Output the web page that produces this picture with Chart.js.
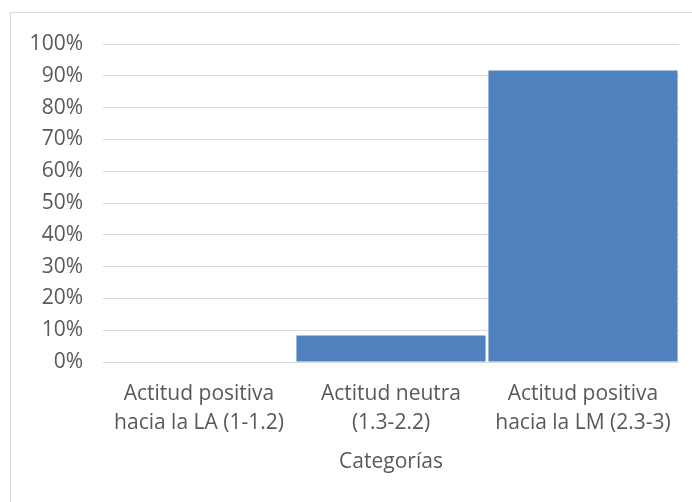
<!DOCTYPE html>
<html>
<head>
<meta charset="utf-8">
<script src="https://cdn.jsdelivr.net/npm/chart.js@4"></script>
<style>
  html, body { margin: 0; padding: 0; background: #fff; overflow: hidden; }
  #frame { position: absolute; left: 10px; top: 12px; width: 700px; height: 520px; border: 1px solid #d9d9d9; box-sizing: border-box; }
  #wrap { position: absolute; left: 0; top: 0; width: 692px; height: 502px; }
</style>
</head>
<body>
<div id="frame"></div>
<div id="wrap"><canvas id="c" width="692" height="502"></canvas></div>
<script>
// Attitude categories and share of respondents (%)
const categories = [
  ["Actitud positiva", "hacia la LA (1-1.2)"],
  ["Actitud neutra", "(1.3-2.2)"],
  ["Actitud positiva", "hacia la LM (2.3-3)"]
];
const shares = [0, 8.3, 91.7];
const axisTitle = "Categorías";

const FONT = "'Open Sans'";
const TEXT = "#595959";

new Chart(document.getElementById("c"), {
  type: "bar",
  data: {
    labels: categories,
    datasets: [{
      data: shares,
      backgroundColor: "#4f81bd",
      borderWidth: 0,
      barPercentage: 1,
      categoryPercentage: 0.985
    }]
  },
  options: {
    responsive: false,
    animation: false,
    devicePixelRatio: 1,
    layout: { padding: { left: 0, right: 13, top: 44, bottom: 27 } },
    plugins: { legend: { display: false }, tooltip: { enabled: false } },
    scales: {
      x: {
        grid: { display: false },
        border: { display: false },
        ticks: { color: TEXT, font: { family: FONT, size: 21, lineHeight: 1.4 }, maxRotation: 0, padding: 9 },
        title: { display: true, text: axisTitle, color: TEXT, font: { family: FONT, size: 21 }, padding: { top: 4, bottom: 0 } },
        afterFit(scale) { scale.height = 113; }
      },
      y: {
        min: 0, max: 100,
        ticks: { stepSize: 10, color: TEXT, font: { family: FONT, size: 21 }, padding: 20,
                 callback: v => v + "%" },
        grid: { color: "#d9d9d9", lineWidth: 1, drawTicks: false },
        border: { display: false },
        afterFit(scale) { scale.width = 103; }
      }
    }
  }
});
</script>
</body>
</html>
